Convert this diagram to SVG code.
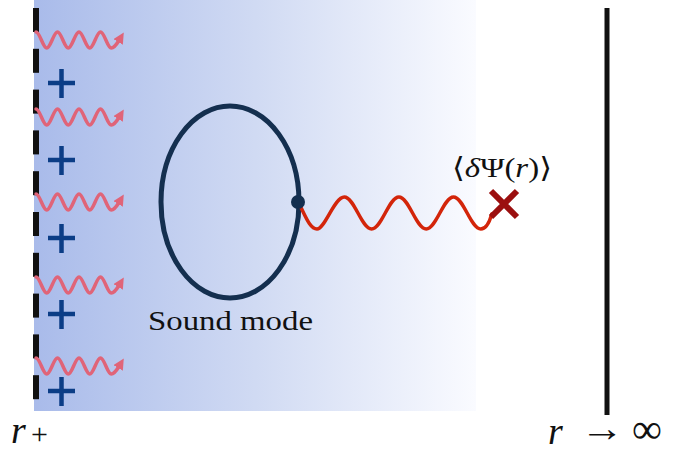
<svg xmlns="http://www.w3.org/2000/svg" xmlns:xlink="http://www.w3.org/1999/xlink" width="678" height="452" viewBox="0 0 678 452">
<defs>
<linearGradient id="bg" x1="0" y1="0" x2="1" y2="0">
<stop offset="0" stop-color="#a9bbea"/>
<stop offset="0.5" stop-color="#d0daf3"/>
<stop offset="1" stop-color="#fafbff"/>
</linearGradient>
<marker id="pinkhead" viewBox="0 0 10 10" refX="2" refY="5" markerWidth="11" markerHeight="11" markerUnits="userSpaceOnUse" orient="auto">
<path d="M0,0 L10,5 L0,10 z" fill="#e06478"/>
</marker>
<path id="pw" d="M0,-8 c3.9,0 6.85,16 10.75,16 s6.85,-16 10.75,-16 s6.85,16 10.75,16 s6.85,-16 10.75,-16 s6.85,16 10.75,16 s6.85,-16 10.75,-16 s6.85,16 10.75,16 c2.5,0 5,-3 8,-8" class="pink" marker-end="url(#pinkhead)"/>
</defs>
<style>
.dash{fill:#111}
.pink{fill:none;stroke:#e06478;stroke-width:3.5;stroke-linecap:round}
.plus{stroke:#0b3d86;stroke-width:4.5;fill:none}
.serif{font-family:"Liberation Serif","DejaVu Serif",serif;fill:#111}
</style>
<rect id="background" x="34" y="0" width="442" height="411" fill="url(#bg)"/>
<g id="boundary">
<rect class="dash" x="33" y="8" width="6" height="24"/>
<rect class="dash" x="33" y="48.8" width="6" height="24"/>
<rect class="dash" x="33" y="89.6" width="6" height="24"/>
<rect class="dash" x="33" y="130.4" width="6" height="24"/>
<rect class="dash" x="33" y="171.2" width="6" height="24"/>
<rect class="dash" x="33" y="212" width="6" height="24"/>
<rect class="dash" x="33" y="252.8" width="6" height="24"/>
<rect class="dash" x="33" y="293.6" width="6" height="24"/>
<rect class="dash" x="33" y="334.4" width="6" height="24"/>
<rect class="dash" x="33" y="375.2" width="6" height="24"/>
</g>
<g id="radiation">
<use xlink:href="#pw" transform="translate(36,40)"/>
<use xlink:href="#pw" transform="translate(36,117)"/>
<use xlink:href="#pw" transform="translate(36,202)"/>
<use xlink:href="#pw" transform="translate(36,285)"/>
<use xlink:href="#pw" transform="translate(36,366)"/>
</g>
<g id="charges">
<path class="plus" d="M48,83 h27 M61.5,69 v29"/>
<path class="plus" d="M48,160 h27 M61.5,146 v29"/>
<path class="plus" d="M48,238 h27 M61.5,224 v29"/>
<path class="plus" d="M48,314 h27 M61.5,300 v29"/>
<path class="plus" d="M48,391 h27 M61.5,377 v29"/>
</g>
<g id="sound-mode">
<ellipse cx="230" cy="202" rx="69" ry="96" fill="none" stroke="#142f4f" stroke-width="5"/>
<text class="serif" x="148" y="330" font-size="27" textLength="165" lengthAdjust="spacingAndGlyphs">Sound mode</text>
</g>
<g id="connectors">
<path d="M298,202 C304,212 309,229 317,229 s17.3,-32 27.3,-32 s17.3,32 27.3,32 s17.3,-32 27.3,-32 s17.3,32 27.3,32 s17.3,-32 27.3,-32 s17.3,32 27.3,32 c6,0 9,-8 11,-15" fill="none" stroke="#d3250a" stroke-width="3.5" stroke-linecap="round"/>
</g>
<g id="vertex">
<circle cx="298" cy="202" r="7" fill="#142f4f"/>
</g>
<g id="expectation">
<path d="M491,191 L517,217 M491,217 L517,191" stroke="#9b0f0f" stroke-width="6" stroke-linecap="butt"/>
<text class="serif" x="452" y="177" font-size="28" textLength="100" lengthAdjust="spacingAndGlyphs">⟨<tspan font-style="italic">δ</tspan>Ψ(<tspan font-style="italic">r</tspan>)⟩</text>
</g>
<g id="infinity">
<rect x="604.5" y="8" width="5" height="407" fill="#111"/>
<text class="serif" x="548" y="444" font-size="38" font-style="italic">r</text>
<text class="serif" x="580" y="441" font-size="38" textLength="44" lengthAdjust="spacingAndGlyphs">→</text>
<text class="serif" x="632" y="443" font-size="42">∞</text>
</g>
<g id="horizon-label">
<text class="serif" x="11" y="443" font-size="38" font-style="italic">r</text>
<text class="serif" x="31" y="444" font-size="30">+</text>
</g>
</svg>
